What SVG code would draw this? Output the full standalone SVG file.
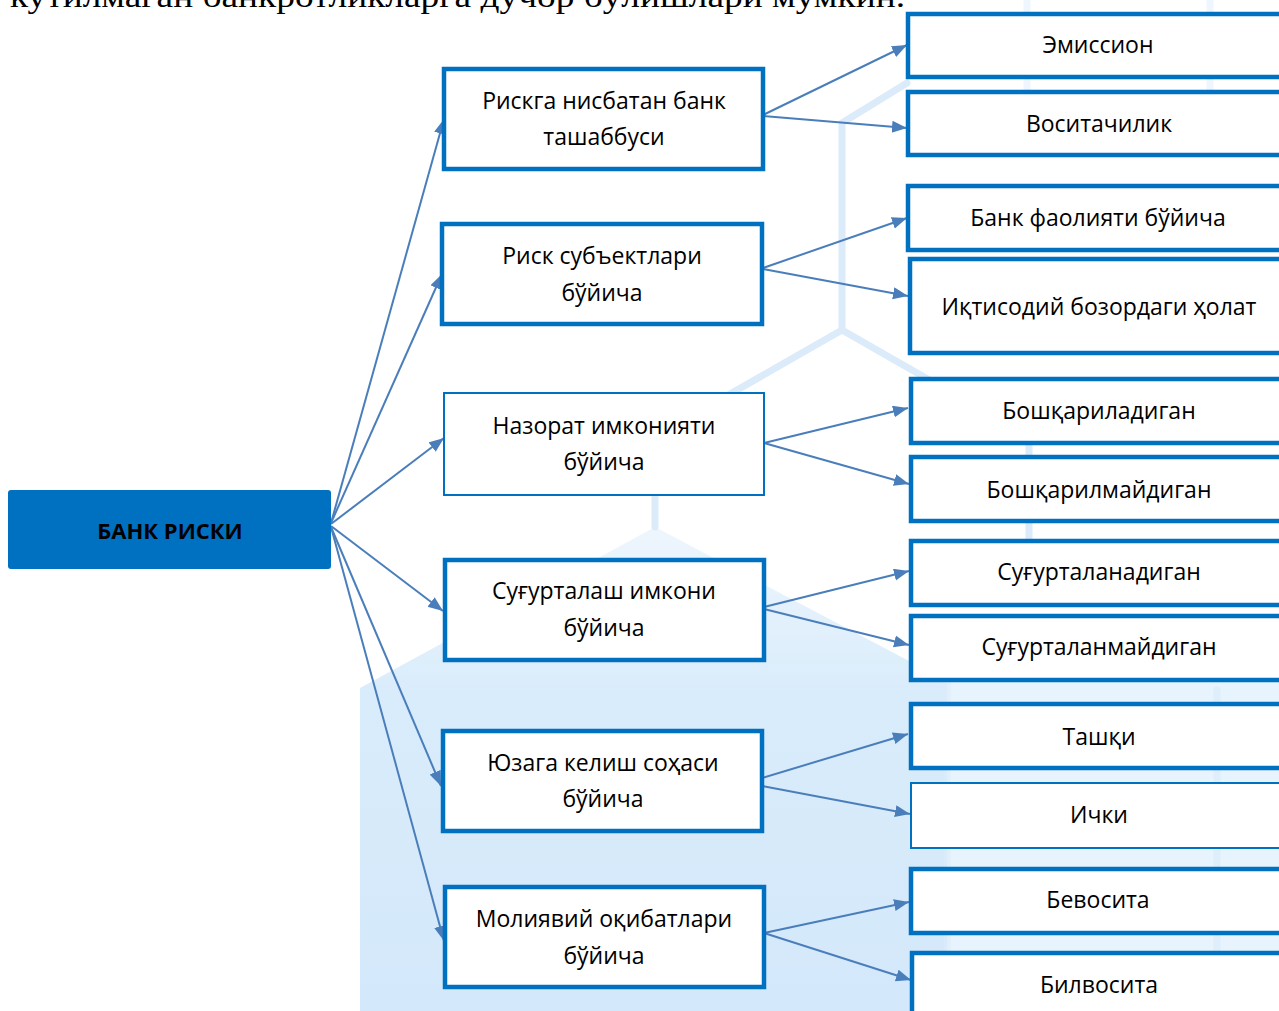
<svg xmlns="http://www.w3.org/2000/svg" width="1279" height="1011" viewBox="0 0 1279 1011">
<defs>
<style>
.box{fill:#fff;stroke:#0070C0;stroke-width:4.5}
.thin{fill:#fff;stroke:#0070C0;stroke-width:2}
.t{font-family:"Open Sans","Noto Sans","Liberation Sans",sans-serif;font-size:23px;fill:#000;text-anchor:middle;dominant-baseline:central}
.c{stroke:#4A7EBB;stroke-width:2;fill:none;marker-end:url(#ah)}
.bgl{stroke:#DCEBFA;stroke-width:7;fill:none;stroke-linecap:round}
</style>
<marker id="ah" markerUnits="userSpaceOnUse" markerWidth="16" markerHeight="14" refX="15" refY="6" orient="auto">
<path d="M0,0 L15,6 L0,12 Z" fill="#4A7EBB"/>
</marker>
<linearGradient id="hexg" x1="0" y1="0" x2="0" y2="1">
<stop offset="0" stop-color="#EEF6FD"/>
<stop offset="0.35" stop-color="#D9ECFB"/>
<stop offset="1" stop-color="#D3E8FA"/>
</linearGradient>
</defs>
<rect width="1279" height="1011" fill="#fff"/>
<g id="background">
<polygon points="655,527 947,681 947,1011 360,1011 360,688" fill="url(#hexg)"/>
<rect x="947" y="681" width="332" height="330" fill="#D9ECFB" opacity="0.6"/>
<polyline class="bgl" points="907,83 842,123 842,330 655,437 655,527"/>
<line class="bgl" x1="842" y1="330" x2="1029" y2="437"/>
<line class="bgl" x1="1029" y1="437" x2="1029" y2="540"/>
<line class="bgl" x1="1217" y1="690" x2="1217" y2="1011" opacity="0.7"/>
<line class="bgl" x1="947" y1="681" x2="947" y2="1011" opacity="0.6"/>
<line class="bgl" x1="1027" y1="0" x2="1027" y2="95" opacity="0.45"/>
<line class="bgl" x1="1210" y1="0" x2="1210" y2="95" opacity="0.45"/>
</g>
<text x="10" y="7" font-family="'Liberation Serif','Times New Roman',serif" font-size="31" textLength="895" lengthAdjust="spacingAndGlyphs" fill="#000">кутилмаган банкротликларга дучор бўлишлари мумкин.</text>
<g id="connectors">
<line class="c" x1="331" y1="523" x2="444" y2="119"/>
<line class="c" x1="331" y1="523" x2="442" y2="274"/>
<line class="c" x1="331" y1="524" x2="444" y2="438"/>
<line class="c" x1="331" y1="526" x2="443" y2="611"/>
<line class="c" x1="331" y1="527" x2="441" y2="786"/>
<line class="c" x1="331" y1="527" x2="444" y2="941"/>
<line class="c" x1="763" y1="115" x2="907" y2="45"/>
<line class="c" x1="763" y1="116" x2="907" y2="128"/>
<line class="c" x1="763" y1="268" x2="907" y2="218"/>
<line class="c" x1="763" y1="269" x2="908" y2="296"/>
<line class="c" x1="764" y1="443" x2="908" y2="408"/>
<line class="c" x1="764" y1="443" x2="909" y2="484"/>
<line class="c" x1="764" y1="607" x2="909" y2="571"/>
<line class="c" x1="764" y1="609" x2="909" y2="645"/>
<line class="c" x1="762" y1="778" x2="908" y2="734"/>
<line class="c" x1="762" y1="786" x2="910" y2="814"/>
<line class="c" x1="764" y1="933" x2="909" y2="902"/>
<line class="c" x1="764" y1="933" x2="911" y2="980"/>
</g>
<g id="n0">
<rect x="8" y="490" width="323" height="79" rx="3" fill="#0070C0"/>
<text class="t" x="170" y="530" font-weight="bold" style="font-size:22px">БАНК РИСКИ</text>
</g>
<g id="n1">
<rect class="box" x="444" y="69" width="319" height="100"/>
<text class="t" x="604" y="100">Рискга нисбатан банк</text>
<text class="t" x="604" y="136">ташаббуси</text>
</g>
<g id="n2">
<rect class="box" x="442" y="224" width="320" height="100"/>
<text class="t" x="602" y="255">Риск субъектлари</text>
<text class="t" x="602" y="292">бўйича</text>
</g>
<g id="n3">
<rect class="thin" x="444" y="393" width="320" height="102"/>
<text class="t" x="604" y="425">Назорат имконияти</text>
<text class="t" x="604" y="461">бўйича</text>
</g>
<g id="n4">
<rect class="box" x="445" y="560" width="319" height="100"/>
<text class="t" x="604" y="590">Суғурталаш имкони</text>
<text class="t" x="604" y="627">бўйича</text>
</g>
<g id="n5">
<rect class="box" x="443" y="731" width="319" height="100"/>
<text class="t" x="603" y="762">Юзага келиш соҳаси</text>
<text class="t" x="603" y="798">бўйича</text>
</g>
<g id="n6">
<rect class="box" x="445" y="887" width="319" height="100"/>
<text class="t" x="604" y="918">Молиявий оқибатлари</text>
<text class="t" x="604" y="955">бўйича</text>
</g>
<g id="r1">
<rect class="box" x="908" y="14" width="400" height="63"/>
<text class="t" x="1098" y="44">Эмиссион</text>
</g>
<g id="r2">
<rect class="box" x="908" y="92" width="400" height="63"/>
<text class="t" x="1099" y="123">Воситачилик</text>
</g>
<g id="r3">
<rect class="box" x="908" y="186" width="400" height="64"/>
<text class="t" x="1098" y="217">Банк фаолияти бўйича</text>
</g>
<g id="r4">
<rect class="box" x="910" y="259" width="400" height="94"/>
<text class="t" x="1099" y="306">Иқтисодий бозордаги ҳолат</text>
</g>
<g id="r5">
<rect class="box" x="911" y="379" width="400" height="64"/>
<text class="t" x="1099" y="410">Бошқариладиган</text>
</g>
<g id="r6">
<rect class="box" x="911" y="457" width="400" height="64"/>
<text class="t" x="1099" y="489">Бошқарилмайдиган</text>
</g>
<g id="r7">
<rect class="box" x="911" y="541" width="400" height="64"/>
<text class="t" x="1099" y="571">Суғурталанадиган</text>
</g>
<g id="r8">
<rect class="box" x="911" y="616" width="400" height="64"/>
<text class="t" x="1099" y="646">Суғурталанмайдиган</text>
</g>
<g id="r9">
<rect class="box" x="911" y="704" width="400" height="64"/>
<text class="t" x="1099" y="736">Ташқи</text>
</g>
<g id="r10">
<rect class="thin" x="911" y="783" width="400" height="65"/>
<text class="t" x="1099" y="814">Ички</text>
</g>
<g id="r11">
<rect class="box" x="911" y="869" width="400" height="64"/>
<text class="t" x="1098" y="899">Бевосита</text>
</g>
<g id="r12">
<rect class="box" x="912" y="953" width="400" height="80"/>
<text class="t" x="1099" y="984">Билвосита</text>
</g>
</svg>
